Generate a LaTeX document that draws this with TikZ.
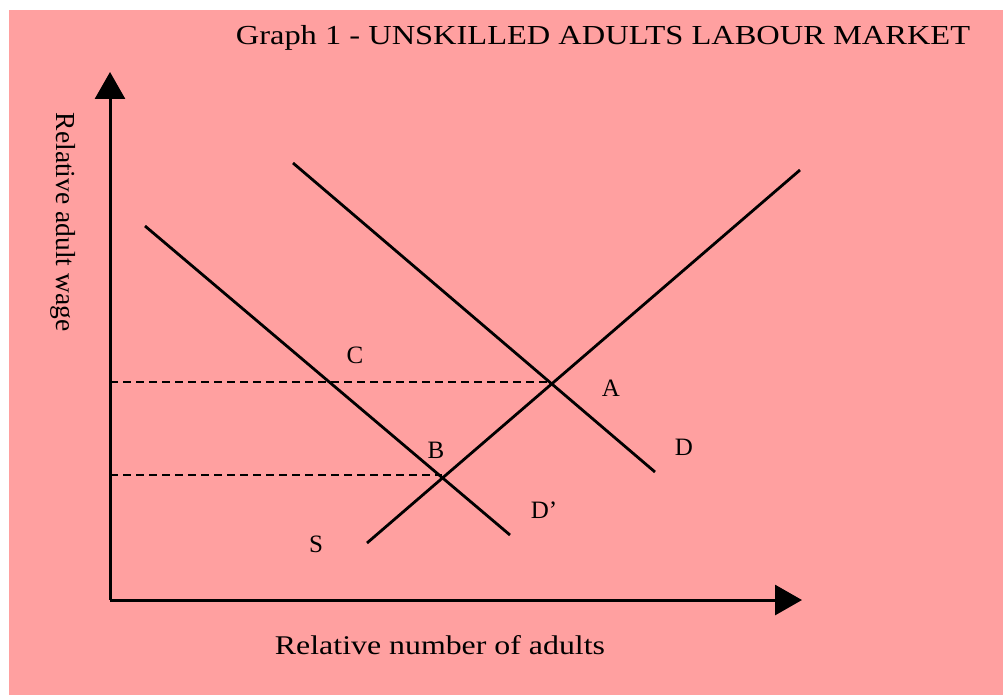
\documentclass[tikz,border=0pt]{standalone}
\usepackage{fontspec}
\setmainfont{Liberation Serif}
\usetikzlibrary{arrows.meta}
\definecolor{bgpink}{RGB}{255,160,160}
\begin{document}
\begin{tikzpicture}[x=1pt,y=-1pt,
  axisline/.style={line width=3pt, -{Triangle[length=27pt,width=30pt]}},
  curve/.style={line width=2.8pt},
  guide/.style={line width=2.2pt, dash pattern=on 8pt off 5pt},
  ptlabel/.style={font=\fontsize{25}{25}\selectfont, inner sep=0pt},
  axlabel/.style={font=\fontsize{27.5}{27.5}\selectfont, inner sep=0pt}]
\fill[white] (0,0) rectangle (1003,695);
\useasboundingbox (0,0) rectangle (1003,695);
\fill[bgpink] (9,10) rectangle (1003,695);
% axes
\coordinate (O) at (110,600);
\coordinate (ytop) at (110,72);
\coordinate (xend) at (802,600);
\draw[axisline] (O) -- (ytop);
\draw[axisline] (O) -- (xend);
% curves
\coordinate (S1) at (367,543);
\coordinate (S2) at (800,170);
\coordinate (D1) at (293,163);
\coordinate (D2) at (655,472);
\coordinate (Dp1) at (145,226);
\coordinate (Dp2) at (510,535);
\draw[curve] (S1) -- (S2);
\draw[curve] (D1) -- (D2);
\draw[curve] (Dp1) -- (Dp2);
% equilibrium points
\coordinate (A) at (550,382);
\coordinate (B) at (442,475);
\coordinate (yA) at (110,382);
\coordinate (yB) at (110,475);
\draw[guide] (yA) -- (A);
\draw[guide] (yB) -- (B);
% labels
\node[ptlabel] (lC) at (355,355) {C};
\node[ptlabel] (lA) at (611,388) {A};
\node[ptlabel] (lB) at (436,450) {B};
\node[ptlabel] (lD) at (684,447) {D};
\node[ptlabel] (lDp) at (544,510) {D’};
\node[ptlabel] (lS) at (316,544) {S};
\node[axlabel, rotate=-90] (ylab) at (63,222) {Relative adult wage};
\node[font=\fontsize{27}{27}\selectfont, inner sep=0pt] (xlab) at (440,645) {\scalebox{1.18}[1]{Relative number of adults}};
\node[font=\fontsize{27.5}{27.5}\selectfont, inner sep=0pt] (title) at (603,38) {\scalebox{1.18}[1]{Graph 1 - UNSKILLED ADULTS LABOUR MARKET}};
\end{tikzpicture}
\end{document}
